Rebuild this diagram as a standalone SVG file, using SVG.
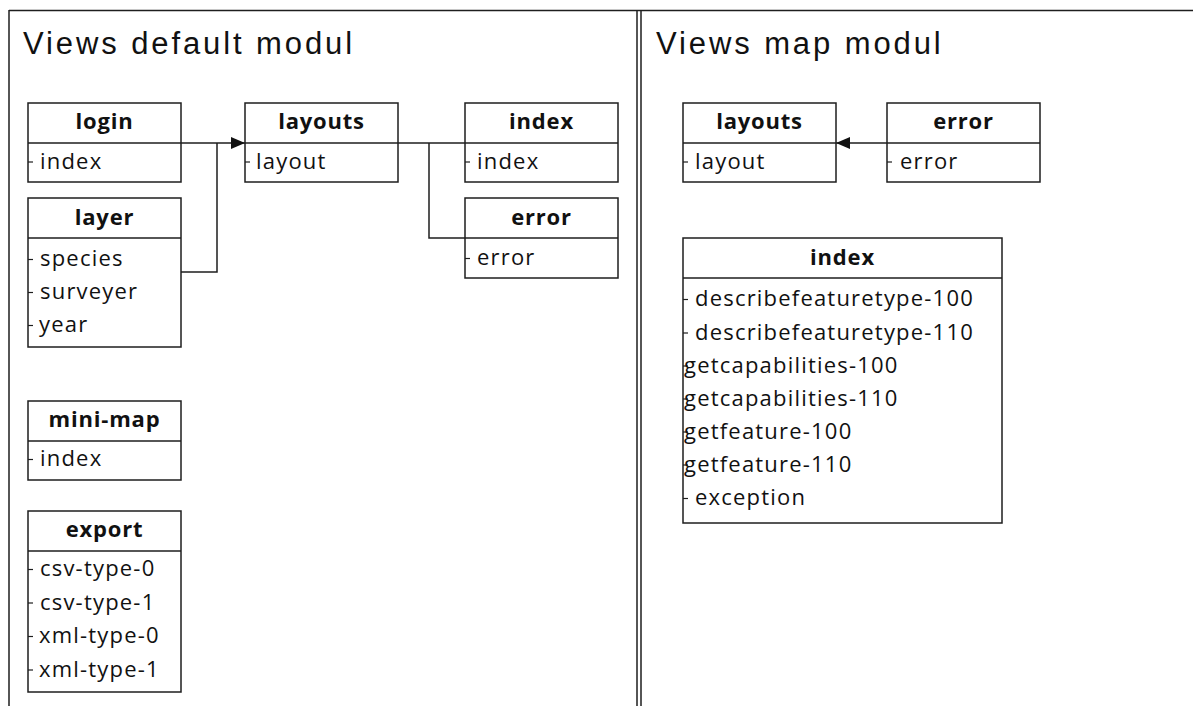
<svg xmlns="http://www.w3.org/2000/svg" width="1193" height="706" viewBox="0 0 1193 706">
  <style>
    .frame { stroke: #1e1e1e; stroke-width: 1.5; fill: none; }
    .box { fill: #ffffff; stroke: #1e1e1e; stroke-width: 1.5; }
    .sep { stroke: #1e1e1e; stroke-width: 1.5; }
    .tick { stroke: #1e1e1e; stroke-width: 1.2; }
    .wire { stroke: #1e1e1e; stroke-width: 1.5; fill: none; }
    .title { font-family: "Liberation Sans", Arial, sans-serif; font-size: 31px; letter-spacing: 2.9px; fill: #111; }
    .head { font-family: "Open Sans", "Noto Sans", sans-serif; font-size: 22px; font-weight: bold; letter-spacing: 0.8px; fill: #111; text-anchor: middle; }
    .item { font-family: "Open Sans", "Noto Sans", sans-serif; font-size: 22px; letter-spacing: 1.2px; fill: #111; }
  </style>
  <defs>
    <marker id="arrow" viewBox="0 0 14 12" refX="14" refY="6" markerWidth="14" markerHeight="12" markerUnits="userSpaceOnUse" orient="auto">
      <path d="M0,0 L14,6 L0,12 Z" fill="#111"/>
    </marker>
  </defs>

  <rect width="1193" height="706" fill="#ffffff"/>

  <!-- panel frames -->
  <g id="frame">
    <line class="frame" x1="9" y1="10.5" x2="1193" y2="10.5"/>
    <line class="frame" x1="9" y1="10" x2="9" y2="706"/>
    <line class="frame" x1="637" y1="10" x2="637" y2="706"/>
    <line class="frame" x1="641" y1="10" x2="641" y2="706"/>
    <text class="title" x="23" y="54">Views default modul</text>
    <text class="title" x="656" y="54">Views map modul</text>
  </g>

  <!-- connectors -->
  <g id="connectors">
    <path class="wire" d="M181,143 H245" marker-end="url(#arrow)"/>
    <path class="wire" d="M181,272 H217 V143"/>
    <path class="wire" d="M398,143 H465"/>
    <path class="wire" d="M429,143 V238 H465"/>
    <path class="wire" d="M887,143 H836" marker-end="url(#arrow)"/>
  </g>

  <!-- default module views -->
  <g id="login">
    <rect class="box" x="28" y="103" width="153" height="79"/>
    <line class="sep" x1="28" y1="143" x2="181" y2="143"/>
    <text class="head" x="104.5" y="128.5">login</text>
    <line class="tick" x1="28" y1="162" x2="33" y2="162"/>
    <text class="item" x="40" y="168.5">index</text>
  </g>

  <g id="layer">
    <rect class="box" x="28" y="198" width="153" height="149"/>
    <line class="sep" x1="28" y1="238" x2="181" y2="238"/>
    <text class="head" x="104.5" y="225">layer</text>
    <line class="tick" x1="28" y1="259.5" x2="33" y2="259.5"/>
    <text class="item" x="40" y="266">species</text>
    <line class="tick" x1="28" y1="292.5" x2="33" y2="292.5"/>
    <text class="item" x="40" y="299">surveyer</text>
    <line class="tick" x1="28" y1="325.5" x2="33" y2="325.5"/>
    <text class="item" x="39" y="332">year</text>
  </g>

  <g id="mini-map">
    <rect class="box" x="28" y="401" width="153" height="79"/>
    <line class="sep" x1="28" y1="441" x2="181" y2="441"/>
    <text class="head" x="104.5" y="427">mini-map</text>
    <line class="tick" x1="28" y1="459.5" x2="33" y2="459.5"/>
    <text class="item" x="40" y="466">index</text>
  </g>

  <g id="export">
    <rect class="box" x="28" y="511" width="153" height="181"/>
    <line class="sep" x1="28" y1="551" x2="181" y2="551"/>
    <text class="head" x="104.5" y="537">export</text>
    <line class="tick" x1="28" y1="569.5" x2="33" y2="569.5"/>
    <text class="item" x="40" y="576">csv-type-0</text>
    <line class="tick" x1="28" y1="603" x2="33" y2="603"/>
    <text class="item" x="40" y="609.5">csv-type-1</text>
    <line class="tick" x1="28" y1="636.5" x2="33" y2="636.5"/>
    <text class="item" x="39" y="643">xml-type-0</text>
    <line class="tick" x1="28" y1="670" x2="33" y2="670"/>
    <text class="item" x="39" y="676.5">xml-type-1</text>
  </g>

  <g id="layouts-default">
    <rect class="box" x="245" y="103" width="153" height="79"/>
    <line class="sep" x1="245" y1="143" x2="398" y2="143"/>
    <text class="head" x="321.5" y="128.5">layouts</text>
    <line class="tick" x1="245" y1="162" x2="250" y2="162"/>
    <text class="item" x="256" y="168.5">layout</text>
  </g>

  <g id="index-default">
    <rect class="box" x="465" y="103" width="153" height="79"/>
    <line class="sep" x1="465" y1="143" x2="618" y2="143"/>
    <text class="head" x="541.5" y="128.5">index</text>
    <line class="tick" x1="465" y1="162" x2="470" y2="162"/>
    <text class="item" x="477" y="168.5">index</text>
  </g>

  <g id="error-default">
    <rect class="box" x="465" y="198" width="153" height="80"/>
    <line class="sep" x1="465" y1="238" x2="618" y2="238"/>
    <text class="head" x="541.5" y="225">error</text>
    <line class="tick" x1="465" y1="258.5" x2="470" y2="258.5"/>
    <text class="item" x="477" y="265">error</text>
  </g>

  <!-- map module views -->
  <g id="layouts-map">
    <rect class="box" x="683" y="103" width="153" height="79"/>
    <line class="sep" x1="683" y1="143" x2="836" y2="143"/>
    <text class="head" x="759.5" y="128.5">layouts</text>
    <line class="tick" x1="683" y1="162" x2="688" y2="162"/>
    <text class="item" x="695" y="168.5">layout</text>
  </g>

  <g id="error-map">
    <rect class="box" x="887" y="103" width="153" height="79"/>
    <line class="sep" x1="887" y1="143" x2="1040" y2="143"/>
    <text class="head" x="963.5" y="128.5">error</text>
    <line class="tick" x1="887" y1="162" x2="892" y2="162"/>
    <text class="item" x="900" y="168.5">error</text>
  </g>

  <g id="index-map">
    <rect class="box" x="683" y="238" width="319" height="285"/>
    <line class="sep" x1="683" y1="278" x2="1002" y2="278"/>
    <text class="head" x="842.5" y="264.5">index</text>
    <line class="tick" x1="683" y1="299.5" x2="688" y2="299.5"/>
    <text class="item" x="695" y="306">describefeaturetype-100</text>
    <line class="tick" x1="683" y1="333" x2="688" y2="333"/>
    <text class="item" x="695" y="339.5">describefeaturetype-110</text>
    <line class="tick" x1="683" y1="366" x2="688" y2="366"/>
    <text class="item" x="684" y="372.5">getcapabilities-100</text>
    <line class="tick" x1="683" y1="399" x2="688" y2="399"/>
    <text class="item" x="684" y="405.5">getcapabilities-110</text>
    <line class="tick" x1="683" y1="432" x2="688" y2="432"/>
    <text class="item" x="684" y="438.5">getfeature-100</text>
    <line class="tick" x1="683" y1="465" x2="688" y2="465"/>
    <text class="item" x="684" y="471.5">getfeature-110</text>
    <line class="tick" x1="683" y1="498.5" x2="688" y2="498.5"/>
    <text class="item" x="695" y="505">exception</text>
  </g>
</svg>
